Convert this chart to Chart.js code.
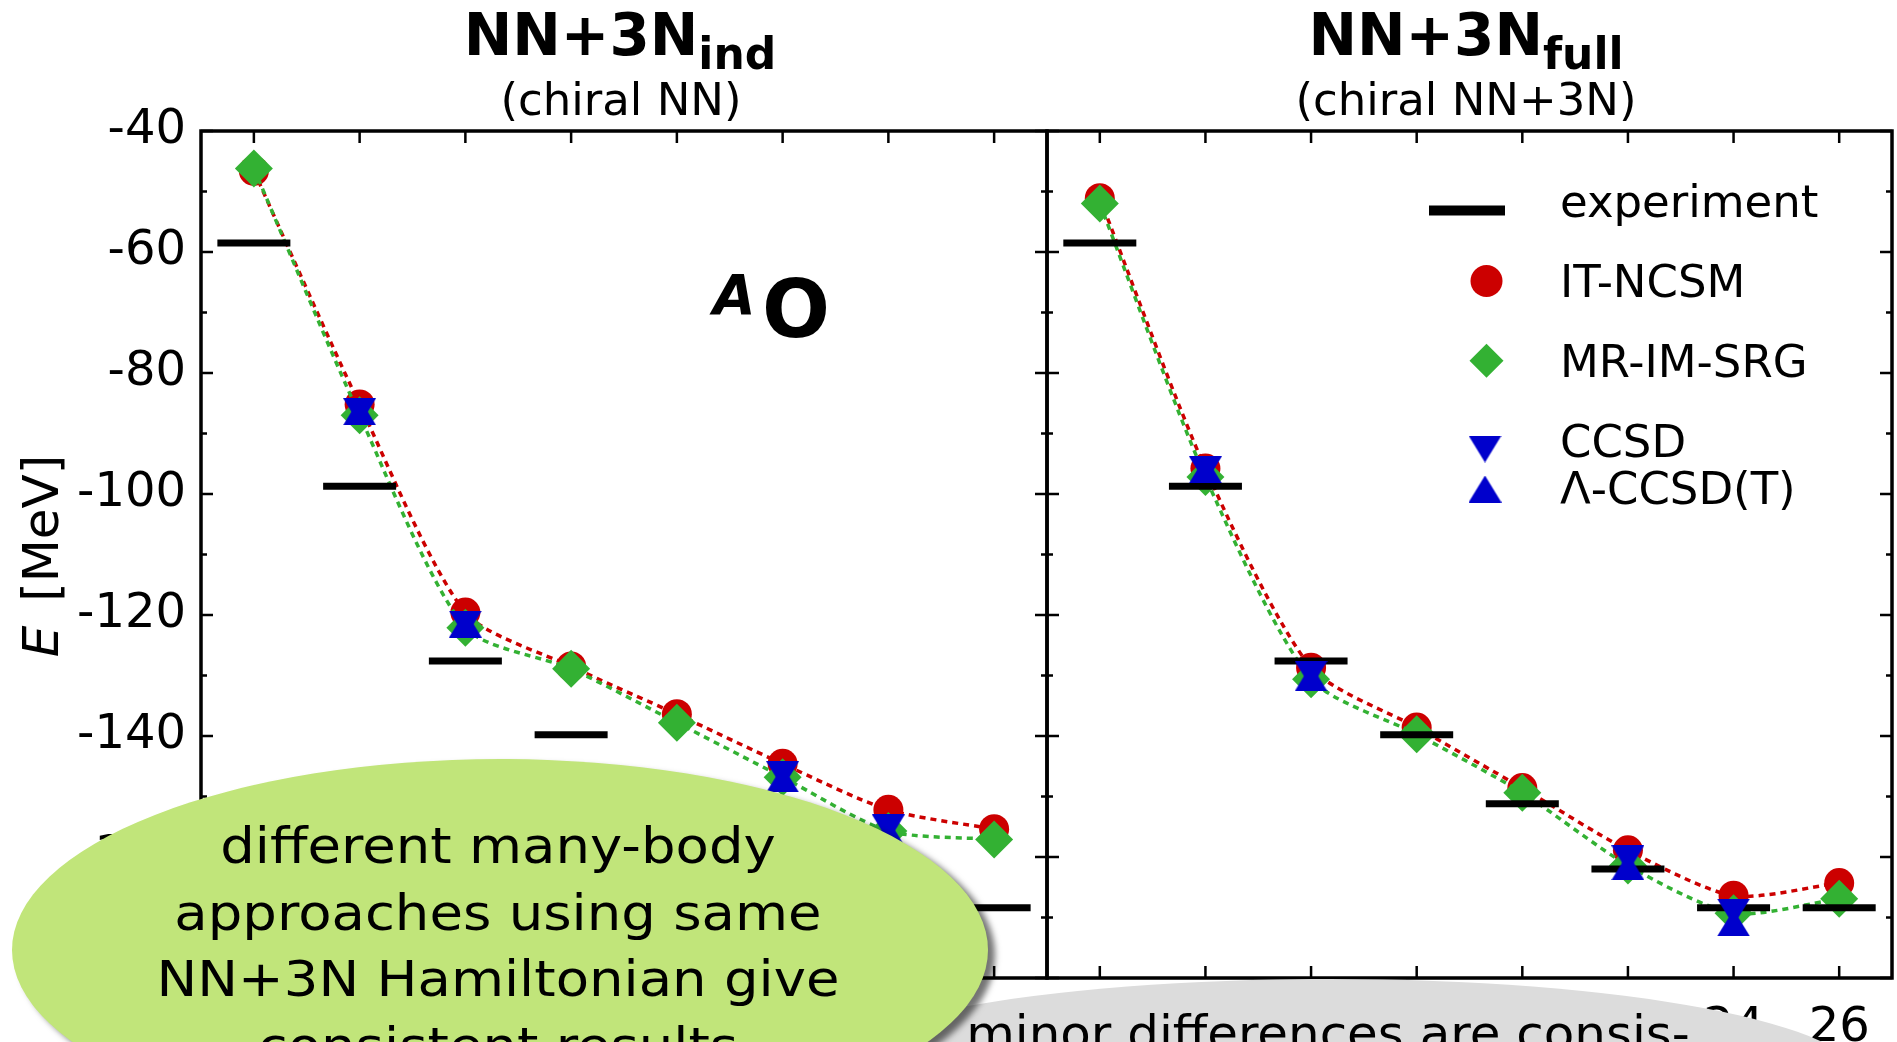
<!DOCTYPE html>
<html>
<head>
<meta charset="utf-8">
<script src="https://cdn.jsdelivr.net/npm/chart.js@4.4.1/dist/chart.umd.min.js"></script>
<style>
  html, body { margin: 0; padding: 0; background: #fff; overflow: hidden; }
  body { position: relative; width: 1897px; height: 1042px; font-family: 'DejaVu Sans', sans-serif; color: #000; }
  canvas { position: absolute; left: 0; top: 0; }
  .txt { position: absolute; white-space: nowrap; line-height: 1; }
  .ellipse { position: absolute; border-radius: 50%; }
</style>
</head>
<body>
<canvas id="indChart" width="1897" height="1042"></canvas>
<canvas id="fullChart" width="1897" height="1042"></canvas>

<div class="txt" style="left:320px; width:600px; top:6px; text-align:center; font-size:58px; font-weight:bold">NN+3N<span style="font-size:44px; vertical-align:-14px">ind</span></div>
<div class="txt" style="left:321px; width:600px; top:77px; text-align:center; font-size:45px">(chiral NN)</div>
<div class="txt" style="left:1166px; width:600px; top:6px; text-align:center; font-size:58px; font-weight:bold">NN+3N<span style="font-size:44px; vertical-align:-14px">full</span></div>
<div class="txt" style="left:1166px; width:600px; top:77px; text-align:center; font-size:45px">(chiral NN+3N)</div>

<div class="txt" style="left:713px; top:268px; font-size:55px; font-weight:bold; font-style:italic">A</div>
<div class="txt" style="left:762px; top:270px; font-size:80px; font-weight:bold">O</div>

<div class="txt" style="left:-109px; top:531px; width:300px; height:50px; text-align:center; font-size:50px; transform:rotate(-90deg)"><i>E</i><span style="margin-left:8px"> [MeV]</span></div>

<div class="ellipse" style="left:800px; top:979px; width:1060px; height:200px; background:#dcdcdc"></div>
<div class="txt" style="left:928px; width:800px; top:1009px; text-align:center; font-size:48px; transform:scaleX(1.04)">minor differences are consis-</div>

<div class="ellipse" style="left:12px; top:759px; width:976px; height:382px; background:#c1e57a; box-shadow:7px 5px 6px rgba(0,0,0,0.55)"></div>
<div class="txt" style="left:0; width:996px; top:813px; text-align:center; font-size:50px; line-height:66.5px; transform:scaleX(1.09); transform-origin:498px 0">different many-body<br>approaches using same<br>NN+3N Hamiltonian give<br>consistent results</div>

<script>
// oxygen isotopes, ground-state energies in MeV
const massNumbers = [12, 14, 16, 18, 20, 22, 24, 26];
const experiment = [-58.5, -98.7, -127.6, -139.8, -151.2, -162.0, -168.4, -168.4];

// NN+3N induced (chiral NN)
const itncsmInd = [-46.6, -85.2, -119.6, -128.5, -136.4, -144.6, -152.2, -155.4];
const mrimsrgInd = [-46.2, -87.0, -122.1, -128.9, -137.8, -146.8, -155.7, -157.1];
const ccsdInd = [null, -86.4, -121.5, null, null, -146.4, -155.2, null];
const lccsdtInd = [null, -86.4, -121.5, null, null, -147.1, -156.0, null];

// NN+3N full (chiral NN+3N)
const itncsmFull = [-51.1, -95.8, -128.7, -138.6, -148.6, -158.9, -166.4, -164.3];
const mrimsrgFull = [-52.0, -97.2, -130.6, -139.7, -149.4, -161.4, -169.3, -166.9];
const ccsdFull = [null, -96.0, -129.8, null, null, -160.3, -169.1, null];
const lccsdtFull = [null, -96.0, -130.4, null, null, -161.6, -170.9, null];

const yTicks = [-180, -160, -140, -120, -100, -80, -60, -40];
const xTicks = [12, 14, 16, 18, 20, 22, 24, 26];

const RED = '#cc0000';
const GREEN = '#33b133';
const BLUE = '#0000cc';

Chart.defaults.font.family = "'DejaVu Sans', sans-serif";
Chart.defaults.color = '#000';

// matplotlib-like triangles, centred on their bounding box
function triangle(up) {
  const c = document.createElement('canvas');
  c.width = 33; c.height = 27;
  const g = c.getContext('2d');
  g.fillStyle = BLUE;
  g.beginPath();
  if (up) { g.moveTo(16.5, 0); g.lineTo(33, 27); g.lineTo(0, 27); }
  else { g.moveTo(0, 0); g.lineTo(33, 0); g.lineTo(16.5, 27); }
  g.closePath();
  g.fill();
  return c;
}
const triUp = triangle(true);
const triDown = triangle(false);

const pts = (vals) => massNumbers.map((a, i) => ({ x: a, y: vals[i] })).filter((p) => p.y !== null);

function datasets(itncsm, mrimsrg, ccsd, lccsdt) {
  const dotted = { showLine: true, borderWidth: 3.5, borderDash: [6, 5], tension: 0.25, pointBorderWidth: 0 };
  return [
    { label: 'IT-NCSM', data: pts(itncsm), ...dotted, borderColor: RED, pointBackgroundColor: RED, pointStyle: 'circle', pointRadius: 15, order: 5 },
    { label: 'MR-IM-SRG', data: pts(mrimsrg), ...dotted, borderColor: GREEN, pointBackgroundColor: GREEN, pointStyle: 'rectRot', pointRadius: 19, order: 4 },
    { label: 'experiment', data: pts(experiment), pointStyle: 'line', pointRadius: 36.5, pointBorderWidth: 7, pointBorderColor: '#000', pointBackgroundColor: '#000', order: 3 },
    { label: 'CCSD', data: pts(ccsd), pointStyle: triDown, pointRadius: 16, order: 2 },
    { label: 'Λ-CCSD(T)', data: pts(lccsdt), pointStyle: triUp, pointRadius: 16, order: 1 },
  ];
}

// inward ticks on all four sides plus the frame
const frameTicks = {
  id: 'frameTicks',
  afterDatasetsDraw(chart) {
    const { ctx, chartArea: a, scales: { x, y } } = chart;
    ctx.save();
    ctx.strokeStyle = '#000';
    ctx.lineWidth = 2.5;
    ctx.beginPath();
    for (let v = yTicks[0]; v <= yTicks[yTicks.length - 1]; v += 10) {
      const py = y.getPixelForValue(v);
      const len = v % 20 === 0 ? 12 : 6;
      ctx.moveTo(a.left, py); ctx.lineTo(a.left + len, py);
      ctx.moveTo(a.right, py); ctx.lineTo(a.right - len, py);
    }
    for (const v of xTicks) {
      const px = x.getPixelForValue(v);
      ctx.moveTo(px, a.bottom); ctx.lineTo(px, a.bottom - 12);
      ctx.moveTo(px, a.top); ctx.lineTo(px, a.top + 12);
    }
    ctx.stroke();
    ctx.lineWidth = 3.5;
    ctx.strokeRect(a.left, a.top, a.right - a.left, a.bottom - a.top);
    ctx.restore();
  },
};

const legendBox = {
  id: 'legendBox',
  afterDraw(chart) {
    const ctx = chart.ctx;
    ctx.save();
    ctx.strokeStyle = '#000';
    ctx.lineWidth = 10;
    ctx.beginPath(); ctx.moveTo(1429, 210.5); ctx.lineTo(1505, 210.5); ctx.stroke();
    ctx.fillStyle = RED;
    ctx.beginPath(); ctx.arc(1486.5, 281, 16, 0, Math.PI * 2); ctx.fill();
    ctx.fillStyle = GREEN;
    ctx.beginPath();
    ctx.moveTo(1486.5, 343.7); ctx.lineTo(1503.5, 360.7); ctx.lineTo(1486.5, 377.7); ctx.lineTo(1469.5, 360.7);
    ctx.closePath(); ctx.fill();
    ctx.drawImage(triDown, 1485 - 16.5, 449 - 13.5);
    ctx.drawImage(triUp, 1485 - 16.5, 489 - 13.5);
    ctx.fillStyle = '#000';
    ctx.font = "45px 'DejaVu Sans'";
    ctx.textBaseline = 'alphabetic';
    ctx.textAlign = 'left';
    const labels = ['experiment', 'IT-NCSM', 'MR-IM-SRG', 'CCSD', 'Λ-CCSD(T)'];
    const baselines = [217, 297, 376.5, 456.5, 503.5];
    labels.forEach((t, i) => ctx.fillText(t, 1560, baselines[i]));
    ctx.restore();
  },
};

const common = {
  responsive: false,
  animation: false,
  events: [],
  plugins: { legend: { display: false }, tooltip: { enabled: false } },
};

new Chart(document.getElementById('indChart'), {
  type: 'scatter',
  data: { datasets: datasets(itncsmInd, mrimsrgInd, ccsdInd, lccsdtInd) },
  plugins: [frameTicks],
  options: {
    ...common,
    layout: { autoPadding: false, padding: { left: 0, top: 131, right: 850, bottom: 64 } },
    scales: {
      x: { type: 'linear', min: 11, max: 27, display: false },
      y: {
        min: -180, max: -40,
        afterFit: (s) => { s.width = 201; },
        afterBuildTicks: (s) => { s.ticks = yTicks.map((v) => ({ value: v })); },
        grid: { display: false, drawTicks: false },
        border: { display: false },
        ticks: { font: { size: 48 }, padding: 15, color: '#000' },
      },
    },
  },
});

new Chart(document.getElementById('fullChart'), {
  type: 'scatter',
  data: { datasets: datasets(itncsmFull, mrimsrgFull, ccsdFull, lccsdtFull) },
  plugins: [frameTicks, legendBox],
  options: {
    ...common,
    layout: { autoPadding: false, padding: { left: 1047, top: 131, right: 5, bottom: 0 } },
    scales: {
      x: {
        type: 'linear', min: 11, max: 27,
        afterFit: (s) => { s.height = 64; },
        afterBuildTicks: (s) => { s.ticks = xTicks.map((v) => ({ value: v })); },
        grid: { display: false, drawTicks: false },
        border: { display: false },
        ticks: { font: { size: 48 }, padding: 22, color: '#000', maxRotation: 0, autoSkip: false },
      },
      y: { min: -180, max: -40, display: false },
    },
  },
});
</script>
</body>
</html>
